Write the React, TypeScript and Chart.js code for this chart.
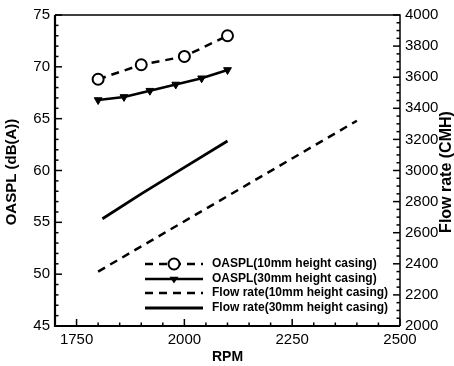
import React, { useEffect, useRef } from "react";
import { Chart, registerables } from "chart.js";

Chart.register(...registerables);

const rpm10 = [1800, 1900, 2000, 2100];
const oaspl10 = [68.8, 70.2, 71.0, 73.0];
const rpm30 = [1800, 1860, 1920, 1980, 2040, 2100];
const oaspl30 = [66.8, 67.1, 67.7, 68.3, 68.9, 69.7];
const flowRpm10 = [1800, 2400];
const flow10 = [2350, 3320];
const flowRpm30 = [1810, 1900, 2000, 2100];
const flow30 = [2690, 2850, 3020, 3190];

const xTicks = [1750, 2000, 2250, 2500];
const leftTicks = [45, 50, 55, 60, 65, 70, 75];
const rightTicks = [2000, 2200, 2400, 2600, 2800, 3000, 3200, 3400, 3600, 3800, 4000];

const seriesLabels = [
  "OASPL(10mm height casing)",
  "OASPL(30mm height casing)",
  "Flow rate(10mm height casing)",
  "Flow rate(30mm height casing)",
];

const FONT = "'Liberation Sans', Arial, Helvetica, sans-serif";

const framePlugin = {
  id: "frame",
  afterDraw(chart: any) {
    const ctx = chart.ctx;
    const { left, right, top, bottom } = chart.chartArea;
    const xs = chart.scales.x;
    const ys = chart.scales.y;
    const ys1 = chart.scales.y1;
    ctx.save();
    ctx.strokeStyle = "#000";
    ctx.setLineDash([]);
    ctx.lineWidth = 1.5;
    ctx.beginPath();
    ctx.moveTo(left, top);
    ctx.lineTo(right, top);
    ctx.lineTo(right, bottom);
    ctx.stroke();
    ctx.lineWidth = 2.2;
    ctx.beginPath();
    ctx.moveTo(left, top);
    ctx.lineTo(left, bottom);
    ctx.lineTo(right, bottom);
    ctx.stroke();
    ctx.lineWidth = 1.5;
    for (let v = 1700; v <= 2500; v += 50) {
      const px = xs.getPixelForValue(v);
      const len = v % 250 === 0 ? 7 : 3.5;
      ctx.beginPath();
      ctx.moveTo(px, bottom);
      ctx.lineTo(px, bottom - len);
      ctx.stroke();
    }
    for (let v = 45; v <= 75; v += 1) {
      const py = ys.getPixelForValue(v);
      const len = v % 5 === 0 ? 7 : 3.5;
      ctx.beginPath();
      ctx.moveTo(left, py);
      ctx.lineTo(left + len, py);
      ctx.stroke();
    }
    for (let v = 2000; v <= 4000; v += 50) {
      const py = ys1.getPixelForValue(v);
      const len = v % 200 === 0 ? 7 : 3.5;
      ctx.beginPath();
      ctx.moveTo(right, py);
      ctx.lineTo(right - len, py);
      ctx.stroke();
    }
    ctx.fillStyle = "#000";
    ctx.textAlign = "center";
    ctx.textBaseline = "middle";
    ctx.font = `bold 14px ${FONT}`;
    ctx.fillText("RPM", (left + right) / 2, 357);
    ctx.font = `bold 15px ${FONT}`;
    ctx.save();
    ctx.translate(12, 172);
    ctx.rotate(-Math.PI / 2);
    ctx.fillText("OASPL (dB(A))", 0, 0);
    ctx.restore();
    ctx.font = `bold 16px ${FONT}`;
    ctx.save();
    ctx.translate(447, 172);
    ctx.rotate(-Math.PI / 2);
    ctx.fillText("Flow rate (CMH)", 0, 0);
    ctx.restore();

    const lx0 = left + 90;
    const lx1 = left + 148;
    const tx = left + 157;
    const rows = [264, 279, 293, 308];
    ctx.font = `bold 12px ${FONT}`;
    ctx.textAlign = "left";
    chart.data.datasets.forEach((ds: any, i: number) => {
      const y = rows[i];
      ctx.strokeStyle = "#000";
      ctx.lineWidth = ds.borderWidth;
      ctx.setLineDash(ds.borderDash || []);
      ctx.beginPath();
      ctx.moveTo(lx0, y);
      ctx.lineTo(lx1, y);
      ctx.stroke();
      ctx.setLineDash([]);
      const cx = (lx0 + lx1) / 2;
      if (ds.pointStyle === "circle" && ds.pointRadius > 0) {
        ctx.fillStyle = "#fff";
        ctx.lineWidth = 2;
        ctx.beginPath();
        ctx.arc(cx, y, ds.pointRadius, 0, Math.PI * 2);
        ctx.fill();
        ctx.stroke();
      } else if (ds.pointStyle === "triangle" && ds.pointRadius > 0) {
        ctx.fillStyle = "#000";
        const r = ds.pointRadius;
        ctx.beginPath();
        ctx.moveTo(cx - r, y - r * 0.5);
        ctx.lineTo(cx + r, y - r * 0.5);
        ctx.lineTo(cx, y + r);
        ctx.closePath();
        ctx.fill();
      }
      ctx.fillStyle = "#000";
      ctx.fillText(seriesLabels[i], tx, y);
    });
    ctx.restore();
  },
};

export default function App() {
  const ref = useRef<HTMLCanvasElement>(null);
  useEffect(() => {
    document.body.style.margin = "0";
    const canvas = ref.current!;
    const toPts = (xs: number[], ys: number[]) => xs.map((x, i) => ({ x, y: ys[i] }));
    const plain = (v: any) => String(v);
    const chart = new Chart(canvas, {
      type: "line",
      data: {
        datasets: [
          {
            label: seriesLabels[0],
            data: toPts(rpm10, oaspl10),
            yAxisID: "y",
            borderColor: "#000",
            borderWidth: 2.5,
            borderDash: [8, 6],
            pointStyle: "circle",
            pointRadius: 5.5,
            pointBorderWidth: 2,
            pointBackgroundColor: "#fff",
            pointBorderColor: "#000",
          },
          {
            label: seriesLabels[1],
            data: toPts(rpm30, oaspl30),
            yAxisID: "y",
            borderColor: "#000",
            borderWidth: 2.5,
            pointStyle: "triangle",
            pointRotation: 180,
            pointRadius: 4.5,
            pointBorderWidth: 1,
            pointBackgroundColor: "#000",
            pointBorderColor: "#000",
          },
          {
            label: seriesLabels[2],
            data: toPts(flowRpm10, flow10),
            yAxisID: "y1",
            borderColor: "#000",
            borderWidth: 2.5,
            borderDash: [8, 6],
            pointRadius: 0,
            pointStyle: "line",
          },
          {
            label: seriesLabels[3],
            data: toPts(flowRpm30, flow30),
            yAxisID: "y1",
            borderColor: "#000",
            borderWidth: 2.8,
            pointRadius: 0,
            pointStyle: "line",
          },
        ],
      },
      options: {
        animation: false,
        responsive: false,
        maintainAspectRatio: false,
        layout: { padding: { top: 15, left: 0, right: 0, bottom: 0 } },
        plugins: { legend: { display: false }, tooltip: { enabled: false } },
        scales: {
          x: {
            type: "linear",
            min: 1700,
            max: 2500,
            grid: { display: false, drawTicks: false },
            border: { display: false },
            afterFit: (s: any) => { s.height = 40; },
            afterBuildTicks: (s: any) => { s.ticks = xTicks.map((v) => ({ value: v })); },
            ticks: { color: "#000", font: { family: FONT, size: 15 }, padding: 5, maxRotation: 0, autoSkip: false, callback: plain },
          },
          y: {
            type: "linear",
            position: "left",
            min: 45,
            max: 75,
            grid: { display: false, drawTicks: false },
            border: { display: false },
            afterFit: (s: any) => { s.width = 55; },
            afterBuildTicks: (s: any) => { s.ticks = leftTicks.map((v) => ({ value: v })); },
            ticks: { color: "#000", font: { family: FONT, size: 15 }, padding: 5, callback: plain },
          },
          y1: {
            type: "linear",
            position: "right",
            min: 2000,
            max: 4000,
            grid: { display: false, drawTicks: false },
            border: { display: false },
            afterFit: (s: any) => { s.width = 54; },
            afterBuildTicks: (s: any) => { s.ticks = rightTicks.map((v) => ({ value: v })); },
            ticks: { color: "#000", font: { family: FONT, size: 15 }, padding: 5, callback: plain },
          },
        },
      },
      plugins: [framePlugin],
    } as any);
    return () => chart.destroy();
  }, []);
  return (
    <div style={{ width: 454, height: 366, background: "#fff" }}>
      <canvas ref={ref} width={454} height={366} style={{ display: "block" }} />
    </div>
  );
}
